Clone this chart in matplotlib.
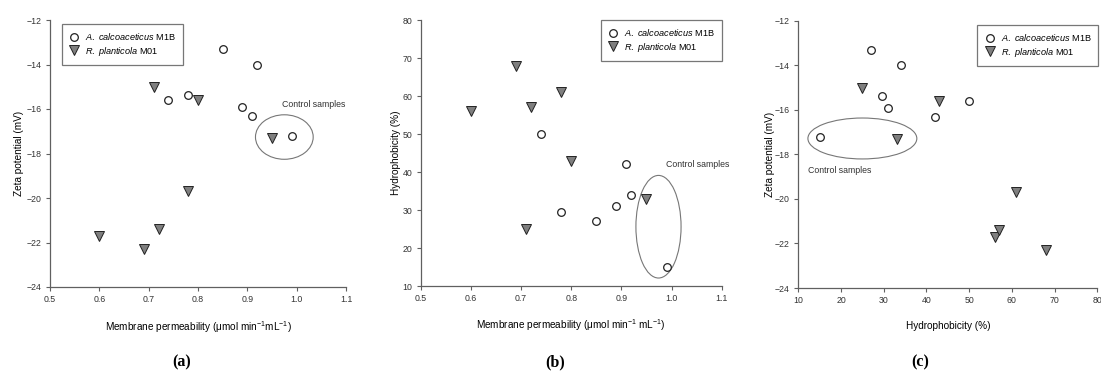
import matplotlib
matplotlib.use("Agg")
import matplotlib.pyplot as plt
from matplotlib.patches import Ellipse

plt.rcParams['font.family'] = ['Liberation Sans', 'DejaVu Sans']
plt.rcParams['mathtext.fontset'] = 'custom'
plt.rcParams['mathtext.it'] = 'Liberation Sans:italic'
plt.rcParams['mathtext.rm'] = 'Liberation Sans'

# Data
# A. calcoaceticus M1B
acal_perm = [0.74, 0.78, 0.85, 0.89, 0.91, 0.92, 0.99]
acal_hydro = [50, 29.5, 27, 31, 42, 34, 15]
acal_zeta = [-15.6, -15.35, -13.3, -15.9, -16.3, -14.0, -17.2]
# R. planticola M01
rpla_perm = [0.60, 0.69, 0.72, 0.78, 0.80, 0.71, 0.95]
rpla_hydro = [56, 68, 57, 61, 43, 25, 33]
rpla_zeta = [-21.7, -22.3, -21.4, -19.7, -15.6, -15.0, -17.3]

labels = [r"$\it{A.}$ $\it{calcoaceticus}$ M1B", r"$\it{R.}$ $\it{planticola}$ M01"]
panel_letters = ["a", "b", "c"]

W, H = 1101, 378
fig = plt.figure(figsize=(W / 100, H / 100), dpi=100)

def frac(l, r, t, b):
    return [l / W, 1 - b / H, (r - l) / W, (b - t) / H]

axes_px = [
    (50, 346, 20, 287),
    (420.7, 721.7, 20, 286),
    (798.3, 1097.3, 21, 288),
]

axc = '#606060'
tick_fs = 6.3
lab_fs = 7.2

def style(ax):
    for s in ['top', 'right']:
        ax.spines[s].set_visible(False)
    for s in ['left', 'bottom']:
        ax.spines[s].set_color(axc)
        ax.spines[s].set_linewidth(0.9)
    ax.tick_params(direction='out', length=3, width=0.8, color=axc,
                   labelsize=tick_fs, labelcolor='#333333', pad=3)

def scatter(ax, xa, ya, xr, yr):
    ax.plot(xa, ya, 'o', ms=5.5, mfc='white', mec='#222222', mew=0.9, ls='none', label=labels[0], clip_on=False)
    ax.plot(xr, yr, 'v', ms=7, mfc='#7f7f7f', mec='#222222', mew=0.7, ls='none', label=labels[1], clip_on=False)

def legend(ax, loc, anchor):
    leg = ax.legend(loc=loc, bbox_to_anchor=anchor, fontsize=6.6, frameon=True, fancybox=False,
                    edgecolor='#555555', handletextpad=0.6, borderpad=0.75, labelspacing=0.3,
                    handlelength=1.2, borderaxespad=0)
    leg.get_frame().set_linewidth(0.9)

axs = [fig.add_axes(frac(*p)) for p in axes_px]

# (a)
ax = axs[0]
scatter(ax, acal_perm, acal_zeta, rpla_perm, rpla_zeta)
ax.set_xlim(0.5, 1.1)
ax.set_ylim(-24, -12)
ax.set_xticks([0.5, 0.6, 0.7, 0.8, 0.9, 1.0, 1.1])
ax.set_yticks(range(-24, -11, 2))
ax.set_xticklabels(['0.5', '0.6', '0.7', '0.8', '0.9', '1.0', '1.1'])
ax.set_xlabel(r"Membrane permeability ($\mathrm{\mu}$mol min$^{\mathrm{-1}}$mL$^{\mathrm{-1}}$)", fontsize=lab_fs, labelpad=11)
ax.set_ylabel("Zeta potential (mV)", fontsize=lab_fs, labelpad=2)
ax.add_patch(Ellipse((0.975, -17.26), 0.117, 2.0, fill=False, ec='#777777', lw=0.8))
ax.text(0.97, -15.78, "Control samples", fontsize=6.3, color='#333333', va='center', ha='left', clip_on=False)
style(ax)
legend(ax, 'upper left', (0.04, 0.985))

# (b)
ax = axs[1]
scatter(ax, acal_perm, acal_hydro, rpla_perm, rpla_hydro)
ax.set_xlim(0.5, 1.1)
ax.set_ylim(10, 80)
ax.set_xticks([0.5, 0.6, 0.7, 0.8, 0.9, 1.0, 1.1])
ax.set_xticklabels(['0.5', '0.6', '0.7', '0.8', '0.9', '1.0', '1.1'])
ax.set_yticks(range(10, 81, 10))
ax.set_xlabel(r"Membrane permeability ($\mathrm{\mu}$mol min$^{\mathrm{-1}}$ mL$^{\mathrm{-1}}$)", fontsize=lab_fs, labelpad=10)
ax.set_ylabel("Hydrophobicity (%)", fontsize=lab_fs, labelpad=1)
ax.add_patch(Ellipse((0.974, 25.6), 0.09, 27, fill=False, ec='#777777', lw=0.8))
ax.text(0.989, 42.1, "Control samples", fontsize=6.3, color='#333333', va='center', ha='left', clip_on=False)
style(ax)
legend(ax, 'upper right', (1.0, 1.0))

# (c)
ax = axs[2]
scatter(ax, acal_hydro, acal_zeta, rpla_hydro, rpla_zeta)
ax.set_xlim(10, 80)
ax.set_ylim(-24, -12)
ax.set_xticks(range(10, 81, 10))
ax.set_yticks(range(-24, -11, 2))
ax.set_xlabel("Hydrophobicity (%)", fontsize=lab_fs, labelpad=11)
ax.set_ylabel("Zeta potential (mV)", fontsize=lab_fs, labelpad=0)
ax.add_patch(Ellipse((25.0, -17.28), 25.5, 1.84, fill=False, ec='#777777', lw=0.8))
ax.text(12.3, -18.73, "Control samples", fontsize=6.3, color='#333333', va='center', ha='left', clip_on=False)
style(ax)
legend(ax, 'upper right', (1.003, 0.985))

# Panel letters
for x, letter in zip([182, 555, 920], panel_letters):
    fig.text(x / W, 1 - 362 / H, "(" + letter + ")", fontsize=11.5, fontweight='bold',
             family=['Liberation Serif', 'DejaVu Serif'], ha='center', va='center')

fig.savefig("out.png", dpi=100)
